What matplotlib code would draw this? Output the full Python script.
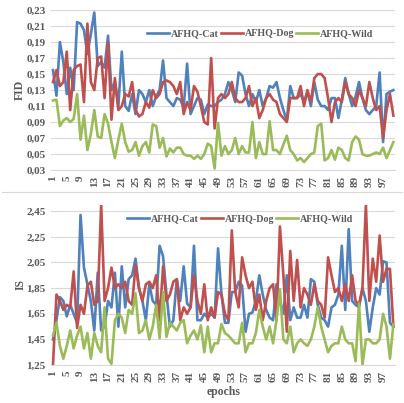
import numpy as np
import matplotlib
matplotlib.use("Agg")
import matplotlib.pyplot as plt
from matplotlib.lines import Line2D

# epochs 1..100
epochs = list(range(1, 101))
tick_epochs = list(range(1, 101, 4))

# FID per epoch
fid_cat = [0.155, 0.123, 0.190, 0.165, 0.125, 0.158, 0.130, 0.215, 0.213, 0.205,
           0.175, 0.200, 0.227, 0.160, 0.165, 0.158, 0.198, 0.130, 0.140, 0.110,
           0.178, 0.110, 0.104, 0.125, 0.100, 0.130, 0.125, 0.115, 0.130, 0.110,
           0.122, 0.130, 0.167, 0.120, 0.115, 0.110, 0.120, 0.118, 0.108, 0.163,
           0.100, 0.110, 0.120, 0.118, 0.100, 0.112, 0.110, 0.110, 0.115, 0.118,
           0.125, 0.140, 0.130, 0.115, 0.152, 0.148, 0.125, 0.110, 0.125, 0.115,
           0.130, 0.110, 0.120, 0.135, 0.133, 0.140, 0.120, 0.105, 0.092, 0.135,
           0.120, 0.120, 0.125, 0.115, 0.128, 0.110, 0.140, 0.118, 0.110, 0.110,
           0.105, 0.120, 0.120, 0.095, 0.118, 0.145, 0.125, 0.110, 0.122, 0.140,
           0.120, 0.105, 0.100, 0.105, 0.110, 0.152, 0.065, 0.125, 0.128, 0.130]

fid_dog = [0.140, 0.155, 0.135, 0.140, 0.178, 0.105, 0.155, 0.160, 0.162, 0.115,
           0.213, 0.140, 0.130, 0.170, 0.172, 0.120, 0.190, 0.093, 0.145, 0.105,
           0.110, 0.125, 0.122, 0.140, 0.105, 0.097, 0.100, 0.115, 0.108, 0.130,
           0.120, 0.125, 0.140, 0.142, 0.140, 0.135, 0.125, 0.140, 0.100, 0.115,
           0.105, 0.135, 0.128, 0.110, 0.090, 0.087, 0.170, 0.082, 0.120, 0.125,
           0.120, 0.125, 0.140, 0.120, 0.115, 0.115, 0.120, 0.135, 0.110, 0.120,
           0.095, 0.105, 0.120, 0.125, 0.118, 0.115, 0.100, 0.095, 0.090, 0.120,
           0.120, 0.120, 0.135, 0.110, 0.130, 0.115, 0.145, 0.150, 0.150, 0.145,
           0.120, 0.090, 0.115, 0.120, 0.115, 0.140, 0.125, 0.120, 0.110, 0.130,
           0.120, 0.110, 0.140, 0.120, 0.105, 0.110, 0.070, 0.105, 0.125, 0.098]

fid_wild = [0.117, 0.118, 0.085, 0.092, 0.095, 0.090, 0.094, 0.125, 0.068, 0.098,
            0.055, 0.075, 0.105, 0.072, 0.070, 0.100, 0.088, 0.065, 0.045, 0.068,
            0.088, 0.065, 0.053, 0.055, 0.065, 0.048, 0.060, 0.065, 0.052, 0.087,
            0.085, 0.058, 0.070, 0.047, 0.057, 0.052, 0.058, 0.058, 0.050, 0.048,
            0.048, 0.044, 0.048, 0.044, 0.050, 0.063, 0.060, 0.032, 0.089, 0.048,
            0.060, 0.050, 0.055, 0.070, 0.050, 0.060, 0.052, 0.052, 0.090, 0.045,
            0.065, 0.050, 0.050, 0.091, 0.055, 0.055, 0.050, 0.062, 0.073, 0.055,
            0.050, 0.042, 0.045, 0.040, 0.045, 0.050, 0.052, 0.085, 0.088, 0.042,
            0.045, 0.055, 0.043, 0.058, 0.055, 0.045, 0.042, 0.065, 0.072, 0.068,
            0.050, 0.048, 0.048, 0.050, 0.052, 0.050, 0.058, 0.045, 0.055, 0.065]

# IS per epoch
is_cat = [1.45, 1.60, 1.78, 1.75, 1.63, 1.72, 1.65, 1.58, 2.42, 2.01,
          1.88, 1.75, 1.52, 1.97, 1.52, 1.55, 1.75, 1.70, 1.97, 1.55,
          2.02, 1.70, 1.92, 1.95, 2.08, 1.85, 1.75, 1.60, 1.88, 1.75,
          1.72, 2.18, 2.10, 1.80, 1.55, 1.60, 1.92, 1.75, 2.02, 1.73,
          1.70, 2.18, 1.60, 1.60, 1.65, 1.62, 1.65, 1.62, 2.16, 1.80,
          1.58, 1.58, 1.82, 1.82, 1.90, 1.87, 1.51, 1.65, 1.66, 1.75,
          1.95, 1.80, 1.68, 1.62, 1.60, 1.88, 1.75, 1.65, 1.95, 1.60,
          1.70, 1.62, 1.62, 1.72, 1.62, 1.92, 1.90, 1.72, 1.62, 1.60,
          1.55, 1.70, 1.72, 1.80, 2.18, 1.68, 2.31, 1.75, 1.72, 1.70,
          1.85, 1.75, 1.51, 1.70, 1.85, 1.80, 2.06, 2.05, 1.58, 1.55]

is_dog = [1.26, 1.80, 1.75, 1.68, 1.72, 1.70, 1.98, 1.54, 1.72, 1.65,
          1.87, 1.90, 1.72, 1.75, 2.50, 1.75, 1.85, 2.01, 1.85, 1.88,
          1.85, 1.90, 1.75, 1.72, 2.03, 1.85, 1.75, 1.88, 1.90, 1.85,
          1.95, 1.60, 2.02, 1.75, 1.80, 1.90, 1.92, 1.60, 1.70, 1.65,
          1.70, 1.95, 1.75, 1.65, 1.88, 1.60, 1.70, 1.62, 1.82, 1.80,
          1.65, 1.60, 2.30, 1.82, 1.70, 2.09, 1.95, 1.85, 1.90, 1.68,
          1.80, 1.60, 1.75, 1.85, 1.88, 1.60, 2.33, 1.95, 1.51, 2.14,
          1.75, 2.07, 1.70, 1.85, 1.80, 1.72, 1.88, 1.75, 1.72, 1.62,
          2.09, 1.95, 1.82, 1.85, 1.75, 1.88, 1.75, 1.95, 1.75, 1.72,
          1.85, 2.50, 1.75, 2.08, 1.90, 2.26, 1.90, 2.00, 2.00, 1.55]

is_wild = [1.48, 1.58, 1.40, 1.30, 1.40, 1.52, 1.38, 1.48, 1.55, 1.38,
           1.50, 1.30, 1.50, 1.40, 1.35, 1.70, 1.30, 1.26, 1.60, 1.65,
           1.62, 1.50, 1.68, 1.65, 1.81, 1.50, 1.52, 1.60, 1.45, 1.55,
           1.72, 1.46, 1.82, 1.47, 1.58, 1.55, 1.52, 1.58, 1.60, 1.42,
           1.48, 1.52, 1.45, 1.56, 1.35, 1.55, 1.35, 1.42, 1.42, 1.57,
           1.50, 1.48, 1.45, 1.42, 1.42, 1.58, 1.35, 1.42, 1.42, 1.50,
           1.68, 1.55, 1.45, 1.55, 1.42, 1.60, 1.84, 1.45, 1.42, 1.55,
           1.35, 1.42, 1.45, 1.42, 1.40, 1.45, 1.55, 1.70, 1.55, 1.45,
           1.35, 1.40, 1.42, 1.42, 1.55, 1.45, 1.42, 1.42, 1.28, 1.73,
           1.25, 1.45, 1.45, 1.42, 1.42, 1.45, 1.65, 1.55, 1.30, 1.57]

labels = ['AFHQ-Cat', 'AFHQ-Dog', 'AFHQ-Wild']
colors = ['#4F81BD', '#C0504D', '#9BBB59']
txt = '#595959'
font = 'Liberation Serif'

fid_ticks = [0.03, 0.05, 0.07, 0.09, 0.11, 0.13, 0.15, 0.17, 0.19, 0.21, 0.23]
is_ticks = [1.25, 1.45, 1.65, 1.85, 2.05, 2.25, 2.45]

fig = plt.figure(figsize=(4.04, 4.03), dpi=100)
ax1 = fig.add_axes([0.127, 0.578, 0.851, 0.397])
ax2 = fig.add_axes([0.127, 0.094, 0.851, 0.398])


def style(ax, series, ticks, ylim, ylabel, leg_xy):
    for vals, c, lab in zip(series, colors, labels):
        ax.plot(epochs, vals, color=c, lw=1.9, label=lab, solid_joinstyle='round')
    ax.set_xlim(0.5, 100.5)
    ax.set_ylim(*ylim)
    ax.set_yticks(ticks)
    ax.set_yticklabels([f'{t:.2f}'.replace('.', ',') for t in ticks])
    ax.set_xticks(tick_epochs)
    ax.set_xticklabels([str(e) for e in tick_epochs], rotation=90)
    ax.grid(axis='y', color='#d9d9d9', lw=0.8)
    ax.set_axisbelow(True)
    for s in ['top', 'right', 'left']:
        ax.spines[s].set_visible(False)
    ax.spines['bottom'].set_color('#d9d9d9')
    ax.tick_params(length=0, labelsize=8, colors=txt, pad=4)
    for t in ax.get_xticklabels() + ax.get_yticklabels():
        t.set_fontfamily(font)
        t.set_fontweight('bold')
    ax.set_ylabel(ylabel, fontsize=8.5, fontweight='bold', family=font, color=txt,
                  ha='center', va='center')
    ax.yaxis.set_label_coords((20 - 51) / 344, 0.5)
    ax.legend(loc='center', bbox_to_anchor=leg_xy, bbox_transform=fig.transFigure,
              ncol=3, frameon=False, handlelength=2.2, columnspacing=0.15, handletextpad=0.2,
              prop={'family': font, 'weight': 'bold', 'size': 7.2}, labelcolor=txt)


style(ax1, [fid_cat, fid_dog, fid_wild], fid_ticks, (0.03, 0.23), 'FID', (260 / 404, 1 - 34 / 403))
style(ax2, [is_cat, is_dog, is_wild], is_ticks, (1.25, 2.5), 'IS', (240 / 404, 1 - 219 / 403))
ax2.set_xlabel('epochs', fontsize=8.5, fontweight='bold', family=font, color=txt, labelpad=3)

fig.add_artist(Line2D([0.005, 0.995], [1 - 192 / 403, 1 - 192 / 403], color='#d9d9d9', lw=0.8,
                      transform=fig.transFigure))

fig.savefig('out.png', dpi=100, facecolor='white')
